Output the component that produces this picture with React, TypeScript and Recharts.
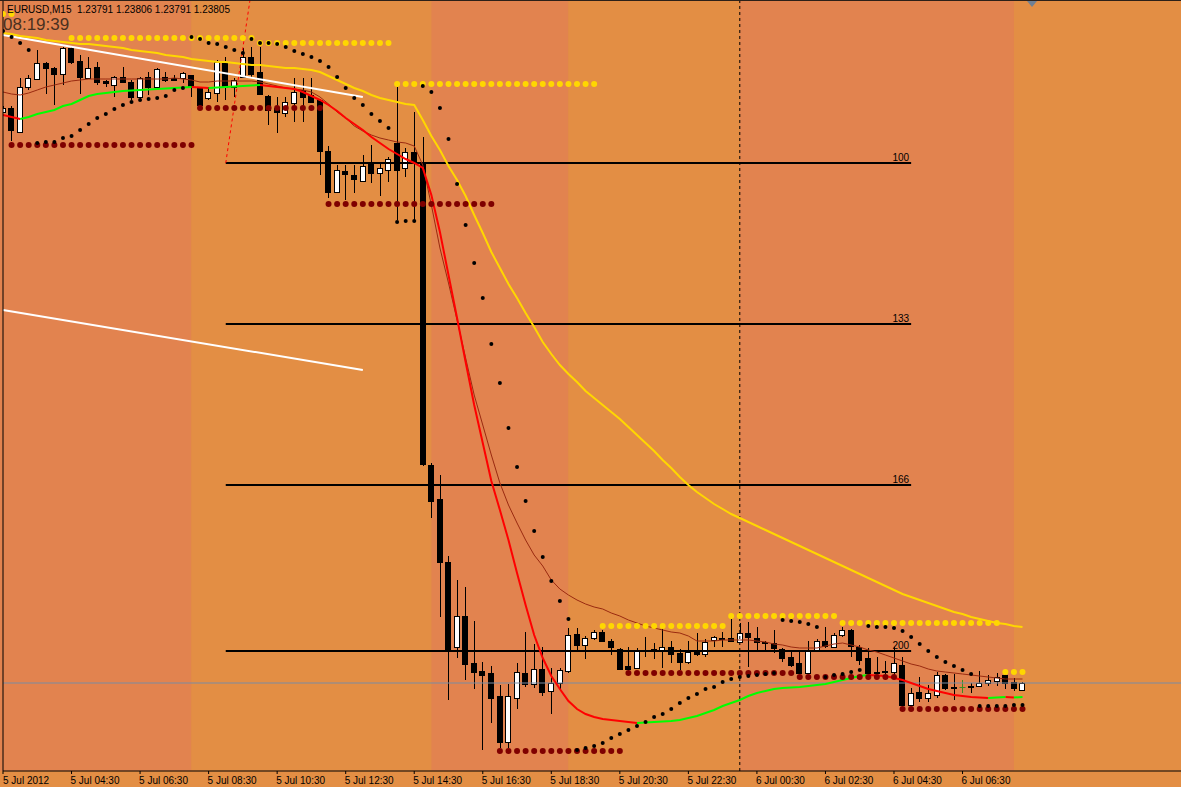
import React from 'react';
import {
  ComposedChart, Bar, Line, XAxis, YAxis, ReferenceLine, ReferenceArea,
} from 'recharts';

// EURUSD M15, 5-6 Jul 2012, bar 0 = 5 Jul 02:30
const opens = [
  1.24947, 1.24955, 1.24907, 1.24997, 1.25013, 1.25045, 1.25035, 1.25023, 1.25075, 1.25049,
  1.25015, 1.25037, 1.25009, 1.25001, 1.25017, 1.25007, 1.24977, 1.25017, 1.24997, 1.25017,
  1.25015, 1.25015, 1.25021, 1.24995, 1.24975, 1.24985, 1.25045, 1.24997, 1.25017, 1.25057,
  1.25027, 1.24979, 1.24955, 1.24945, 1.24965, 1.24991, 1.24981, 1.24971, 1.24869, 1.24787,
  1.24829, 1.24821, 1.24809, 1.24843, 1.24825, 1.24831, 1.24885, 1.24835, 1.24867, 1.24845,
  1.24241, 1.24173, 1.24047, 1.23877, 1.23939, 1.23845, 1.23829, 1.23825, 1.23779, 1.23687,
  1.23775, 1.23825, 1.23803, 1.23833, 1.23789, 1.23805, 1.23829, 1.23903, 1.23881, 1.23895,
  1.23907, 1.23889, 1.23873, 1.23839, 1.23835, 1.23871, 1.23873, 1.23871, 1.23877, 1.23865,
  1.23847, 1.23869, 1.23863, 1.23891, 1.23895, 1.23895, 1.23887, 1.23905, 1.23895, 1.23887,
  1.23885, 1.23873, 1.23857, 1.23845, 1.23825, 1.23871, 1.23889, 1.23877, 1.23901, 1.23911,
  1.23877, 1.23855, 1.23827, 1.23829, 1.23827, 1.23841, 1.23761, 1.23787, 1.23775, 1.23781,
  1.23821, 1.23797, 1.23797, 1.23799, 1.23799, 1.23805, 1.23809, 1.23821, 1.23807, 1.23791,
];
const highs = [
  1.24959, 1.24959, 1.25015, 1.25021, 1.25071, 1.25047, 1.25037, 1.25077, 1.25079, 1.25061,
  1.25057, 1.25047, 1.25011, 1.25019, 1.25037, 1.25011, 1.25017, 1.25027, 1.25035, 1.25027,
  1.25021, 1.25027, 1.25021, 1.24997, 1.24997, 1.25051, 1.25057, 1.25015, 1.25075, 1.25077,
  1.25077, 1.24981, 1.24977, 1.24977, 1.25015, 1.25015, 1.25015, 1.24973, 1.24879, 1.24841,
  1.24841, 1.24841, 1.24861, 1.24881, 1.24847, 1.24857, 1.24997, 1.24875, 1.24947, 1.24897,
  1.24245, 1.24221, 1.24059, 1.24011, 1.23997, 1.23929, 1.23847, 1.23839, 1.23801, 1.23803,
  1.23845, 1.23907, 1.23883, 1.23877, 1.23835, 1.23835, 1.23915, 1.23915, 1.23899, 1.23911,
  1.23911, 1.23893, 1.23875, 1.23877, 1.23875, 1.23897, 1.23885, 1.23915, 1.23889, 1.23873,
  1.23889, 1.23905, 1.23893, 1.23899, 1.23907, 1.23933, 1.23925, 1.23927, 1.23917, 1.23889,
  1.23911, 1.23875, 1.23867, 1.23867, 1.23889, 1.23893, 1.23917, 1.23905, 1.23917, 1.23913,
  1.23881, 1.23875, 1.23857, 1.23849, 1.23877, 1.23857, 1.23795, 1.23817, 1.23801, 1.23827,
  1.23823, 1.23823, 1.23811, 1.23805, 1.23829, 1.23821, 1.23825, 1.23827, 1.23815, 1.23806,
];
const lows = [
  1.24945, 1.24889, 1.24907, 1.24991, 1.25011, 1.24983, 1.24961, 1.25001, 1.25043, 1.24983,
  1.25013, 1.25001, 1.24997, 1.24977, 1.25005, 1.24971, 1.24973, 1.24981, 1.24991, 1.25007,
  1.25009, 1.25005, 1.24977, 1.24957, 1.24971, 1.24967, 1.24971, 1.24977, 1.25015, 1.25015,
  1.24981, 1.24921, 1.24905, 1.24937, 1.24927, 1.24927, 1.24965, 1.24821, 1.24775, 1.24785,
  1.24771, 1.24785, 1.24807, 1.24805, 1.24779, 1.24807, 1.24731, 1.24817, 1.24727, 1.24239,
  1.24135, 1.23937, 1.23771, 1.23855, 1.23811, 1.23793, 1.23671, 1.23725, 1.23675, 1.23675,
  1.23753, 1.23797, 1.23795, 1.23779, 1.23743, 1.23791, 1.23825, 1.23871, 1.23853, 1.23891,
  1.23887, 1.23861, 1.23831, 1.23829, 1.23833, 1.23857, 1.23853, 1.23835, 1.23845, 1.23831,
  1.23843, 1.23859, 1.23857, 1.23877, 1.23877, 1.23887, 1.23885, 1.23837, 1.23871, 1.23871,
  1.23865, 1.23847, 1.23837, 1.23823, 1.23823, 1.23869, 1.23875, 1.23875, 1.23897, 1.23857,
  1.23841, 1.23823, 1.23823, 1.23823, 1.23819, 1.23759, 1.23759, 1.23767, 1.23767, 1.23775,
  1.23791, 1.23771, 1.23785, 1.23785, 1.23797, 1.23799, 1.23799, 1.23793, 1.23789, 1.23791,
];
const closes = [
  1.24955, 1.24911, 1.24997, 1.25015, 1.25045, 1.25035, 1.25023, 1.25075, 1.25047, 1.25017,
  1.25035, 1.25007, 1.25005, 1.25017, 1.25007, 1.24977, 1.25015, 1.24997, 1.25033, 1.25011,
  1.25011, 1.25025, 1.24997, 1.24961, 1.24987, 1.25047, 1.24997, 1.25011, 1.25057, 1.25023,
  1.24983, 1.24951, 1.24947, 1.24967, 1.24987, 1.24977, 1.24967, 1.24869, 1.24787, 1.24831,
  1.24823, 1.24813, 1.24839, 1.24825, 1.24835, 1.24853, 1.24831, 1.24867, 1.24845, 1.24243,
  1.24169, 1.24047, 1.23871, 1.23939, 1.23843, 1.23827, 1.23821, 1.23775, 1.23687, 1.23779,
  1.23827, 1.23803, 1.23833, 1.23787, 1.23805, 1.23831, 1.23901, 1.23881, 1.23895, 1.23907,
  1.23889, 1.23877, 1.23833, 1.23833, 1.23871, 1.23869, 1.23871, 1.23877, 1.23863, 1.23847,
  1.23867, 1.23863, 1.23887, 1.23897, 1.23893, 1.23889, 1.23905, 1.23897, 1.23887, 1.23885,
  1.23875, 1.23855, 1.23841, 1.23825, 1.23869, 1.23889, 1.23879, 1.23901, 1.23911, 1.23879,
  1.23851, 1.23825, 1.23825, 1.23827, 1.23845, 1.23761, 1.23785, 1.23775, 1.23785, 1.23821,
  1.23795, 1.23795, 1.23797, 1.23797, 1.23805, 1.23811, 1.23817, 1.23805, 1.23795, 1.23805,
];

// slow MA (yellow)
const maSlow = [
  1.25105, 1.25103, 1.25099, 1.25097, 1.25095, 1.25091, 1.25089, 1.25087, 1.25085, 1.25083,
  1.25083, 1.25081, 1.25079, 1.25077, 1.25075, 1.25071, 1.25069, 1.25067, 1.25065, 1.25061,
  1.25059, 1.25057, 1.25053, 1.25051, 1.25049, 1.25047, 1.25047, 1.25045, 1.25043, 1.25041,
  1.25041, 1.25039, 1.25037, 1.25035, 1.25035, 1.25033, 1.25031, 1.25027, 1.25019, 1.25011,
  1.25003, 1.24995, 1.24989, 1.24981, 1.24975, 1.24971, 1.24967, 1.24963, 1.24961, 1.24931,
  1.24899, 1.24871, 1.24839, 1.24811, 1.24779, 1.24741, 1.24705, 1.24667, 1.24635, 1.24603,
  1.24575, 1.24545, 1.24517, 1.24487, 1.24463, 1.24441, 1.24423, 1.24407, 1.24389, 1.24375,
  1.24361, 1.24347, 1.24333, 1.24317, 1.24301, 1.24285, 1.24269, 1.24251, 1.24235, 1.24217,
  1.24201, 1.24187, 1.24175, 1.24163, 1.24153, 1.24143, 1.24135, 1.24127, 1.24119, 1.24111,
  1.24103, 1.24095, 1.24087, 1.24079, 1.24071, 1.24063, 1.24055, 1.24047, 1.24039, 1.24031,
  1.24023, 1.24015, 1.24007, 1.23999, 1.23991, 1.23983, 1.23977, 1.23971, 1.23965, 1.23959,
  1.23953, 1.23947, 1.23943, 1.23937, 1.23933, 1.23929, 1.23925, 1.23923, 1.23919, 1.23917,
];
// fast MA (red falling / green rising)
const maFast = [
  1.24941, 1.24937, 1.24933, 1.24937, 1.24943, 1.24947, 1.24951, 1.24959, 1.24963, 1.24971,
  1.24979, 1.24983, 1.24985, 1.24987, 1.24989, 1.24990, 1.24991, 1.24992, 1.24993, 1.24994,
  1.24995, 1.24996, 1.24997, 1.24996, 1.24995, 1.24996, 1.24997, 1.24998, 1.24999, 1.25000,
  1.25001, 1.24999, 1.24997, 1.24995, 1.24993, 1.24987, 1.24979, 1.24971, 1.24961, 1.24949,
  1.24935, 1.24923, 1.24911, 1.24897, 1.24885, 1.24873, 1.24863, 1.24853, 1.24845, 1.24835,
  1.24781, 1.24707, 1.24621, 1.24535, 1.24447, 1.24361, 1.24285, 1.24209, 1.24151, 1.24091,
  1.24025, 1.23961, 1.23901, 1.23855, 1.23819, 1.23793, 1.23769, 1.23753, 1.23743, 1.23737,
  1.23733, 1.23731, 1.23729, 1.23727, 1.23725, 1.23726, 1.23727, 1.23728, 1.23729, 1.23731,
  1.23735, 1.23739, 1.23745, 1.23751, 1.23759, 1.23765, 1.23771, 1.23779, 1.23785, 1.23789,
  1.23793, 1.23795, 1.23796, 1.23797, 1.23799, 1.23801, 1.23803, 1.23807, 1.23811, 1.23815,
  1.23819, 1.23821, 1.23820, 1.23819, 1.23815, 1.23811, 1.23805, 1.23799, 1.23793, 1.23789,
  1.23785, 1.23781, 1.23779, 1.23777, 1.23776, 1.23775, 1.23776, 1.23777, 1.23776, 1.23777,
];
// mid MA (thin dark red)
const maMid = [
  1.24987, 1.24983, 1.24981, 1.24985, 1.24991, 1.24997, 1.25001, 1.25005, 1.25009, 1.25011,
  1.25013, 1.25013, 1.25013, 1.25013, 1.25013, 1.25013, 1.25013, 1.25013, 1.25013, 1.25013,
  1.25015, 1.25013, 1.25011, 1.25007, 1.25007, 1.25009, 1.25009, 1.25009, 1.25009, 1.25009,
  1.25007, 1.25003, 1.24999, 1.24995, 1.24993, 1.24991, 1.24987, 1.24977, 1.24963, 1.24947,
  1.24935, 1.24919, 1.24909, 1.24901, 1.24895, 1.24891, 1.24887, 1.24885, 1.24879, 1.24841,
  1.24761, 1.24675, 1.24605, 1.24531, 1.24455, 1.24381, 1.24321, 1.24261, 1.24205, 1.24161,
  1.24125, 1.24091, 1.24061, 1.24039, 1.24011, 1.23993, 1.23981, 1.23971, 1.23963, 1.23957,
  1.23953, 1.23945, 1.23939, 1.23931, 1.23925, 1.23919, 1.23915, 1.23911, 1.23907, 1.23905,
  1.23899, 1.23889, 1.23889, 1.23889, 1.23891, 1.23891, 1.23891, 1.23891, 1.23889, 1.23887,
  1.23883, 1.23881, 1.23877, 1.23875, 1.23875, 1.23875, 1.23879, 1.23883, 1.23885, 1.23881,
  1.23877, 1.23871, 1.23867, 1.23861, 1.23855, 1.23849, 1.23843, 1.23839, 1.23833, 1.23829,
  1.23827, 1.23825, 1.23823, 1.23821, 1.23819, 1.23817, 1.23815, 1.23813, 1.23813, 1.23813,
];
// parabolic SAR
const sar = [
  1.25109, 1.25097, 1.25085, 1.25071, 1.24885, 1.24887, 1.24887, 1.24895, 1.24899, 1.24911,
  1.24923, 1.24935, 1.24943, 1.24953, 1.24961, 1.24967, 1.24971, 1.24973, 1.24975, 1.24979,
  1.24991, 1.24995, 1.25097, 1.25093, 1.25085, 1.25083, 1.25077, 1.25071, 1.25065, 1.25093,
  1.25085, 1.25085, 1.25083, 1.25077, 1.25069, 1.25063, 1.25057, 1.25049, 1.25037, 1.25017,
  1.24995, 1.24975, 1.24961, 1.24943, 1.24929, 1.24915, 1.24727, 1.24729, 1.24729, 1.24999,
  1.24987, 1.24955, 1.24893, 1.24803, 1.24721, 1.24645, 1.24575, 1.24483, 1.24405, 1.24315,
  1.24237, 1.24169, 1.24109, 1.24057, 1.24009, 1.23969, 1.23933, 1.23671, 1.23675, 1.23679,
  1.23685, 1.23695, 1.23703, 1.23711, 1.23719, 1.23727, 1.23737, 1.23743, 1.23753, 1.23765,
  1.23775, 1.23783, 1.23793, 1.23797, 1.23807, 1.23813, 1.23817, 1.23819, 1.23821, 1.23823,
  1.23825, 1.23931, 1.23929, 1.23927, 1.23923, 1.23917, 1.23817, 1.23821, 1.23823, 1.23827,
  1.23831, 1.23919, 1.23917, 1.23917, 1.23915, 1.23909, 1.23897, 1.23883, 1.23869, 1.23857,
  1.23847, 1.23839, 1.23831, 1.23823, 1.23759, 1.23759, 1.23759, 1.23759, 1.23761, 1.23761,
];

// fractal levels: bar range and price
const upperLevels = [
  { from: 0, to: 1, price: 1.25143 },
  { from: 8, to: 29, price: 1.25095 },
  { from: 30, to: 45, price: 1.25085 },
  { from: 46, to: 69, price: 1.25003 },
  { from: 70, to: 84, price: 1.23919 },
  { from: 85, to: 97, price: 1.23939 },
  { from: 98, to: 116, price: 1.23925 },
  { from: 117, to: 119, price: 1.23827 },
];
const lowerLevels = [
  { from: 1, to: 22, price: 1.24881 },
  { from: 23, to: 37, price: 1.24955 },
  { from: 38, to: 57, price: 1.24763 },
  { from: 58, to: 72, price: 1.23669 },
  { from: 73, to: 92, price: 1.23825 },
  { from: 93, to: 104, price: 1.23817 },
  { from: 105, to: 119, price: 1.23753 },
];

// fibo expansion
const fiboPrices = [1.24845, 1.24523, 1.24201, 1.23869];
const fiboLabels = ['100', '133', '166', '200'];
const fiboFrom = 26;
const fiboTo = 106;

// drawn objects
const channelTop = [{ x: 0, y: 1.25101 }, { x: 42, y: 1.24977 }];
const channelBottom = [{ x: 0, y: 1.24551 }, { x: 42, y: 1.24431 }];
const fiboTrend = [{ x: 26, y: 1.24845 }, { x: 28.83, y: 1.25171 }];

const lastPrice = 1.23805;
const dayBreak = 86;

// session shading, alternating dark / light
const sessionBreaks = [0, 22, 50, 66, 86, 118, 137.5];

const tickBars = [0, 8, 16, 24, 32, 40, 48, 56, 64, 72, 80, 88, 96, 104, 112];
const tickLabels = [
  '5 Jul 2012', '5 Jul 04:30', '5 Jul 06:30', '5 Jul 08:30', '5 Jul 10:30',
  '5 Jul 12:30', '5 Jul 14:30', '5 Jul 16:30', '5 Jul 18:30', '5 Jul 20:30',
  '5 Jul 22:30', '6 Jul 00:30', '6 Jul 02:30', '6 Jul 04:30', '6 Jul 06:30',
];

const FONT = '"Liberation Sans", Arial, sans-serif';
const DARK = '#E2834F';
const LIGHT = '#E38E44';

const levelAt = (levels: { from: number; to: number; price: number }[], i: number) => {
  const l = levels.find((lv) => i >= lv.from && i <= lv.to);
  return l ? l.price : null;
};

const N = closes.length;
const data: any[] = closes.map((c, i) => ({
  i,
  open: opens[i],
  high: highs[i],
  low: lows[i],
  close: c,
  range: [lows[i], highs[i]],
  slow: maSlow[i],
  mid: maMid[i],
  sar: sar[i],
  upper: levelAt(upperLevels, i),
  lower: levelAt(lowerLevels, i),
  upA: null, upB: null, downA: null, downB: null,
}));

// split fast MA into rising / falling runs (A/B so neighbouring runs don't join)
{
  let prev = '';
  const runs: Record<string, number> = { up: 0, down: 0 };
  for (let k = 0; k < N - 1; k++) {
    const d = maFast[k + 1] > maFast[k] ? 'up' : maFast[k + 1] < maFast[k] ? 'down' : prev || 'up';
    if (d !== prev) { runs[d]++; prev = d; }
    const key = d + (runs[d] % 2 ? 'A' : 'B');
    data[k][key] = maFast[k];
    data[k + 1][key] = maFast[k + 1];
  }
}

const Candle = (props: any) => {
  const { x, y, width, height, payload } = props;
  if (x == null || y == null || !payload) return null;
  const { open, close, high, low } = payload;
  const top = Math.min(y, y + height);
  const h = Math.abs(height);
  const py = (p: number) => top + ((high - p) / (high - low)) * h;
  const cx = Math.round(x + width / 2) + 0.5;
  const yHi = Math.round(top);
  const yLo = Math.round(top + h);
  if (open === close) {
    const yc = Math.round(py(open)) + 0.5;
    return (
      <g>
        <line x1={cx} x2={cx} y1={yHi} y2={yLo} stroke="#3c8c22" />
        <line x1={cx - 3} x2={cx + 3} y1={yc} y2={yc} stroke="#3c8c22" />
      </g>
    );
  }
  const b1 = Math.round(py(Math.max(open, close)));
  const b2 = Math.round(py(Math.min(open, close)));
  const bull = close > open;
  return (
    <g>
      <line x1={cx} x2={cx} y1={yHi} y2={yLo} stroke="#000" />
      <rect x={cx - 3} y={b1 + 0.5} width={5} height={Math.max(b2 - b1, 1)}
        fill={bull ? '#fff' : '#000'} stroke="#000" />
    </g>
  );
};

const dotShape = (r: number, fill: string) => (p: any) => {
  if (p.value == null || !Number.isFinite(p.cy)) return <g key={`e${p.index}`} />;
  return <circle key={`d${p.index}`} cx={p.cx} cy={p.cy} r={r} fill={fill} />;
};

const TimeTick = (props: any) => {
  const { x, y, payload } = props;
  const idx = tickBars.indexOf(payload.value);
  return (
    <text x={idx === 0 ? x : x - 1} y={y + 8} fontSize={10} fontFamily={FONT} fill="#000">
      {tickLabels[idx]}
    </text>
  );
};

export default function App() {
  return (
    <div style={{ position: 'absolute', left: 0, top: 0, width: 1181, height: 787, background: LIGHT, overflow: 'hidden' }}>
      <div style={{ position: 'absolute', left: 0, top: 0, width: 3, height: 771, background: DARK }} />
      <ComposedChart width={1181} height={787} data={data} margin={{ top: 0, right: 0, bottom: 0, left: 0 }}>
        <XAxis dataKey="i" type="number" domain={[0, 137.5]} allowDataOverflow ticks={tickBars}
          interval={0} tick={<TimeTick />} tickSize={3} tickLine={{ stroke: '#000' }}
          axisLine={{ stroke: '#000' }} height={16} />
        <YAxis type="number" domain={[1.23629, 1.25171]} allowDataOverflow width={3}
          tick={false} tickLine={false} axisLine={{ stroke: '#000' }} />
        {sessionBreaks.slice(0, -1).map((b, k) => (
          <ReferenceArea key={`s${k}`} x1={b} x2={sessionBreaks[k + 1]}
            fill={k % 2 === 0 ? DARK : LIGHT} fillOpacity={1} stroke="none" ifOverflow="visible" />
        ))}
        <Bar dataKey="range" shape={Candle} barSize={6} isAnimationActive={false} />
        {fiboPrices.map((p, k) => (
          <ReferenceLine key={`f${k}`} segment={[{ x: fiboFrom, y: p }, { x: fiboTo, y: p }]}
            stroke="#000" strokeWidth={2} ifOverflow="visible"
            label={{ value: fiboLabels[k], position: 'insideBottomRight', offset: 2, fill: '#000', fontSize: 10, fontFamily: FONT }} />
        ))}
        <ReferenceLine y={lastPrice} stroke="#7b8ba2" />
        <ReferenceLine x={dayBreak} stroke="#000" strokeDasharray="3 3" />
        <ReferenceLine segment={channelTop} stroke="#fff" strokeWidth={2} ifOverflow="visible" />
        <ReferenceLine segment={channelBottom} stroke="#fff" strokeWidth={2} ifOverflow="visible" />
        <ReferenceLine segment={fiboTrend} stroke="#ff0000" strokeDasharray="3 3" ifOverflow="visible" />
        <Line dataKey="slow" stroke="#FFD700" strokeWidth={2} dot={false} activeDot={false} isAnimationActive={false} />
        <Line dataKey="mid" stroke="#9a2a10" strokeWidth={1} dot={false} activeDot={false} isAnimationActive={false} />
        <Line dataKey="downA" stroke="#ff0000" strokeWidth={2} dot={false} activeDot={false} isAnimationActive={false} />
        <Line dataKey="downB" stroke="#ff0000" strokeWidth={2} dot={false} activeDot={false} isAnimationActive={false} />
        <Line dataKey="upA" stroke="#00ff00" strokeWidth={2} dot={false} activeDot={false} isAnimationActive={false} />
        <Line dataKey="upB" stroke="#00ff00" strokeWidth={2} dot={false} activeDot={false} isAnimationActive={false} />
        <Line dataKey="upper" stroke="none" dot={dotShape(3, '#FFD700')} activeDot={false} isAnimationActive={false} />
        <Line dataKey="lower" stroke="none" dot={dotShape(3, '#7f0000')} activeDot={false} isAnimationActive={false} />
        <Line dataKey="sar" stroke="none" dot={dotShape(2, '#000')} activeDot={false} isAnimationActive={false} />
      </ComposedChart>
      <div style={{ position: 'absolute', left: 0, top: 0, width: 1181, height: 1, background: '#2d2018' }} />
      <div style={{ position: 'absolute', left: 1027, top: 1, width: 0, height: 0, borderLeft: '5px solid transparent', borderRight: '5px solid transparent', borderTop: '6px solid #6f8094' }} />
      <div style={{ position: 'absolute', left: 7, top: 5, fontFamily: FONT, fontSize: 10, lineHeight: 1, color: '#000', whiteSpace: 'pre' }}>
        {'EURUSD,M15  1.23791 1.23806 1.23791 1.23805'}
      </div>
      <div style={{ position: 'absolute', left: 3, top: 16, fontFamily: FONT, fontSize: 17, lineHeight: 1, color: '#4a3020' }}>
        08:19:39
      </div>
    </div>
  );
}
